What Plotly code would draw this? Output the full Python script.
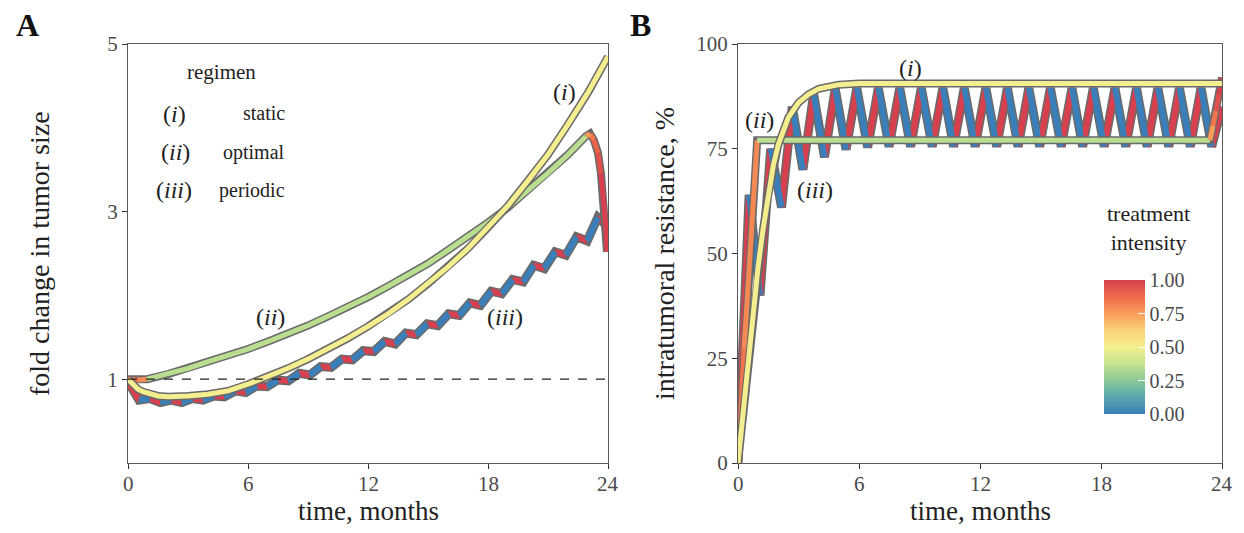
import plotly.graph_objects as go
from plotly.colors import sample_colorscale

# ---------------- data ----------------
month_ticks = [0, 6, 12, 18, 24]
size_ticks = [1, 3, 5]
resist_ticks = [0, 25, 50, 75, 100]
intensity_ticks = [0.0, 0.25, 0.5, 0.75, 1.0]
intensity_labels = ["0.00", "0.25", "0.50", "0.75", "1.00"]

# (i) static regimen -- fold change in tumour size
static_size_t = [0, 0.25, 0.5, 0.75, 1, 1.5, 2, 2.5, 3, 4, 5, 6, 7, 8, 9, 10, 11, 12,
                 13, 14, 15, 16, 17, 18, 19, 20, 21, 22, 23, 24]
static_size = [1.00, 0.93, 0.88, 0.85, 0.83, 0.80, 0.79, 0.79, 0.80, 0.82, 0.86, 0.94,
               1.03, 1.13, 1.24, 1.36, 1.49, 1.63, 1.78, 1.95, 2.14, 2.34, 2.56, 2.81,
               3.07, 3.37, 3.68, 4.04, 4.42, 4.85]
static_size_int = [0.5] * len(static_size_t)

# (i) static regimen -- intratumoral resistance, %
static_res_t = [0, 0.25, 0.5, 0.75, 1, 1.25, 1.5, 1.75, 2, 2.5, 3, 3.5, 4, 5, 6, 24]
static_res = [0, 12, 24, 36, 47, 56, 64, 71, 76, 82.5, 86, 88, 89.3, 90.3, 90.6, 90.6]
static_res_int = [0.5] * len(static_res_t)

# (ii) optimal regimen -- fold change in tumour size
optimal_size_t = [0, 0.5, 0.95, 2, 3, 4, 5, 6, 7, 8, 9, 10, 11, 12, 13, 14, 15, 16, 17,
                  18, 19, 20, 21, 22, 22.9, 23.1, 23.3, 23.5, 23.65, 23.8, 23.9, 23.95]
optimal_size = [1.00, 0.99, 1.00, 1.06, 1.13, 1.21, 1.28, 1.36, 1.45, 1.54, 1.64, 1.75,
                1.86, 1.98, 2.11, 2.24, 2.38, 2.54, 2.70, 2.87, 3.05, 3.25, 3.46, 3.68,
                3.90, 3.93, 3.85, 3.70, 3.45, 3.10, 2.80, 2.52]
optimal_size_int = [0.85, 0.85, 0.8, 0.35, 0.35, 0.35, 0.35, 0.35, 0.35, 0.35, 0.35,
                    0.35, 0.35, 0.35, 0.35, 0.35, 0.35, 0.35, 0.35, 0.35, 0.35, 0.35,
                    0.35, 0.35, 0.35, 0.75, 0.85, 0.9, 0.95, 1.0, 1.0, 1.0]

# (ii) optimal regimen -- intratumoral resistance, %
optimal_res_t = [0, 0.3, 0.6, 0.95, 23.4, 23.55, 23.7, 23.85, 24.0]
optimal_res = [0, 27, 52, 77, 77, 80.5, 84, 88, 92]
optimal_res_int = [0.9, 0.85, 0.8, 0.8, 0.35, 0.75, 0.85, 0.95, 1.0]

# (iii) periodic regimen (switch times, months)
periodic_t = [0.00, 0.55, 1.09, 1.62, 2.16, 2.69, 3.22, 3.75, 4.29, 4.82, 5.36, 5.89,
              6.43, 6.96, 7.49, 8.02, 8.56, 9.09, 9.63, 10.16, 10.69, 11.22, 11.76,
              12.29, 12.83, 13.36, 13.89, 14.42, 14.96, 15.49, 16.03, 16.56, 17.09,
              17.62, 18.16, 18.69, 19.23, 19.76, 20.29, 20.82, 21.36, 21.89, 22.43,
              22.96, 23.49, 24.00]
periodic_size = [0.97, 0.75, 0.77, 0.72, 0.75, 0.72, 0.77, 0.75, 0.80, 0.79, 0.86, 0.84,
                 0.92, 0.91, 0.99, 0.98, 1.07, 1.05, 1.15, 1.14, 1.24, 1.23, 1.34, 1.33,
                 1.45, 1.42, 1.55, 1.53, 1.66, 1.64, 1.78, 1.76, 1.91, 1.88, 2.05, 2.02,
                 2.19, 2.16, 2.36, 2.32, 2.52, 2.48, 2.70, 2.65, 2.93, 2.82]
periodic_res = [0, 64, 40, 75, 61, 85, 70, 88, 73, 89.3, 74.8, 89.5, 75.3, 89.5, 75.5,
                89.5, 75.5, 89.5, 75.5, 89.5, 75.5, 89.5, 75.5, 89.5, 75.5, 89.5, 75.5,
                89.5, 75.5, 89.5, 75.5, 89.5, 75.5, 89.5, 75.5, 89.5, 75.5, 89.5, 75.5,
                89.5, 75.5, 89.5, 75.5, 89.5, 75.5, 85.0]
# treatment intensity of the interval ending at each point
periodic_int = [1, 1, 0, 1, 0, 1, 0, 1, 0, 1, 0, 1, 0, 1, 0, 1, 0, 1, 0, 1, 0, 1, 0, 1,
                0, 1, 0, 1, 0, 1, 0, 1, 0, 1, 0, 1, 0, 1, 0, 1, 0, 1, 0, 1, 0, 1]

# ---------------- style ----------------
# the page body has an 8 px margin: the figure is shifted by (8, 8) in the window
OFF = 8
W, H = 1228, 517
SERIF = "Liberation Serif"
COLORSCALE = [
    [0.0, "#3a7fb9"], [0.125, "#58a6ac"], [0.25, "#89c897"], [0.375, "#c6e48e"],
    [0.5, "#f4ee8e"], [0.625, "#fbd07a"], [0.75, "#f99d5a"], [0.875, "#ee6a4a"],
    [1.0, "#d7404e"],
]
OUTLINE = "#6a6a6a"
TICKCOL = "#4a4a4a"


def fx(x):
    return (x - OFF) / W


def fy(y):
    return 1 - (y - OFF) / H


def color_of(v):
    return sample_colorscale(COLORSCALE, [min(max(v, 0), 1)])[0]


fig = go.Figure()


def add_series(t, v, inten, xa, ya, w_out, w_in):
    fig.add_trace(go.Scatter(x=t, y=v, mode="lines", xaxis=xa, yaxis=ya,
                             line=dict(color=OUTLINE, width=w_out),
                             hoverinfo="skip", showlegend=False))
    runs = []
    for k in range(len(t) - 1):
        c = round(inten[k + 1] * 20) / 20
        if runs and runs[-1][0] == c:
            runs[-1][1].append(k + 1)
        else:
            runs.append([c, [k, k + 1]])
    groups = {}
    for c, idx in runs:
        gx, gy = groups.setdefault(c, ([], []))
        gx.extend([t[i] for i in idx] + [None])
        gy.extend([v[i] for i in idx] + [None])
    for c, (gx, gy) in groups.items():
        fig.add_trace(go.Scatter(x=gx, y=gy, mode="lines", xaxis=xa, yaxis=ya,
                                 line=dict(color=color_of(c), width=w_in),
                                 connectgaps=False, hoverinfo="skip",
                                 showlegend=False))


# panel A
add_series(periodic_t, periodic_size, periodic_int, "x", "y", 9, 6)
add_series(optimal_size_t, optimal_size, optimal_size_int, "x", "y", 8, 5)
add_series(static_size_t, static_size, static_size_int, "x", "y", 8, 5)
# panel B
add_series(periodic_t, periodic_res, periodic_int, "x2", "y2", 9, 6)
add_series(optimal_res_t, optimal_res, optimal_res_int, "x2", "y2", 8, 5)
add_series(static_res_t, static_res, static_res_int, "x2", "y2", 8, 5)

# colour bar carrier
fig.add_trace(go.Scatter(
    x=[12, 12], y=[-50, -50], mode="markers", xaxis="x2", yaxis="y2",
    marker=dict(color=intensity_ticks[::4], coloraxis="coloraxis", size=1),
    hoverinfo="skip", showlegend=False))

# dashed reference at fold change 1
fig.add_shape(type="line", xref="x", yref="y", x0=month_ticks[0], x1=month_ticks[-1],
              y0=1, y1=1, line=dict(color="#222", width=1.2, dash="dash"), layer="above")

axis_common = dict(showline=True, mirror=True, linecolor="#5a5a5a", linewidth=1.3,
                   ticks="outside", ticklen=5, tickcolor="#333", tickwidth=1.2,
                   showgrid=False, zeroline=False, automargin=False,
                   tickfont=dict(family=SERIF, size=21, color=TICKCOL))

ydom = [fy(463), fy(44)]
fig.update_layout(
    width=W, height=H, margin=dict(l=0, r=0, t=0, b=0, pad=0, autoexpand=False),
    plot_bgcolor="white", paper_bgcolor="white",
    xaxis=dict(domain=[fx(128), fx(608)], range=[0, 24], tickvals=month_ticks,
               showticklabels=False, anchor="y", **axis_common),
    yaxis=dict(domain=ydom, range=[0, 5], tickvals=size_ticks, anchor="x",
               **axis_common),
    xaxis2=dict(domain=[fx(738), fx(1222)], range=[0, 24], tickvals=month_ticks,
                showticklabels=False, anchor="y2", **axis_common),
    yaxis2=dict(domain=ydom, range=[0, 100], tickvals=resist_ticks, anchor="x2",
                **axis_common),
    coloraxis=dict(
        colorscale=COLORSCALE, cmin=0, cmax=1,
        colorbar=dict(
            x=fx(1104), xanchor="left", y=fy(347), yanchor="middle",
            thickness=41, thicknessmode="pixels", len=134, lenmode="pixels",
            xpad=0, ypad=0, outlinewidth=0,
            tickvals=intensity_ticks, ticktext=intensity_labels,
            ticks="inside", ticklen=7, tickcolor="white", tickwidth=1,
            tickfont=dict(family=SERIF, size=20, color=TICKCOL),
        ),
    ),
)

annots = []


def text(x, y, s, size, xanchor="center", angle=0, color="#222", bold=False):
    if bold:
        s = "<b>" + s + "</b>"
    annots.append(dict(x=fx(x), y=fy(y), xref="paper", yref="paper", text=s,
                       showarrow=False, xanchor=xanchor, yanchor="middle",
                       textangle=angle,
                       font=dict(family=SERIF, size=size, color=color)))


# x tick labels (placed explicitly, on the axes' own scale)
for xref in ("x", "x2"):
    for m in month_ticks:
        annots.append(dict(x=m, xref=xref, y=fy(484), yref="paper", text=str(m),
                           showarrow=False, xanchor="center", yanchor="middle",
                           font=dict(family=SERIF, size=21, color=TICKCOL)))

# panel letters
text(27, 25, "A", 32, bold=True, color="#111")
text(640, 25, "B", 32, bold=True, color="#111")
# axis titles
text(368, 511, "time, months", 27)
text(980, 511, "time, months", 27)
text(40, 254, "fold change in tumor size", 28, angle=-90)
text(665, 254, "intratumoral resistance, %", 28, angle=-90)
# regimen legend
text(221, 72, "regimen", 21)
text(174, 114, "(<i>i</i>)", 24)
text(175, 152, "(<i>ii</i>)", 24)
text(174, 190, "(<i>iii</i>)", 24)
text(287, 113, "static", 20, xanchor="right")
text(287, 152, "optimal", 20, xanchor="right")
text(287, 190, "periodic", 20, xanchor="right")
# curve labels panel A
text(564, 92, "(<i>i</i>)", 24)
text(270, 317, "(<i>ii</i>)", 24)
text(505, 317, "(<i>iii</i>)", 24)
# curve labels panel B
text(910, 68, "(<i>i</i>)", 24)
text(759, 120, "(<i>ii</i>)", 24)
text(815, 190, "(<i>iii</i>)", 24)
# colour bar title
text(1105, 228, "treatment<br>intensity", 22, xanchor="left")

fig.update_layout(annotations=annots)
fig.write_html("out.html")
